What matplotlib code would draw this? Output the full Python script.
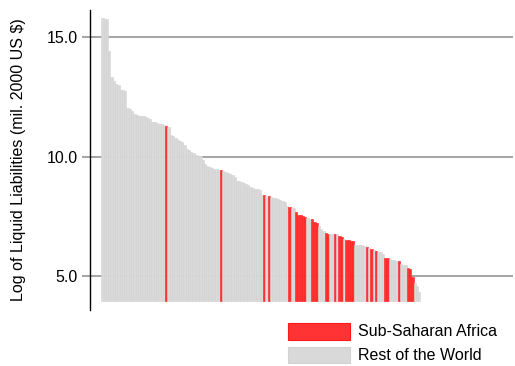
import matplotlib
matplotlib.use("Agg")
import matplotlib.pyplot as plt
from matplotlib.patches import Rectangle

plt.rcParams['font.family'] = ['Liberation Sans', 'DejaVu Sans']

# Log of liquid liabilities per country, sorted descending
values = [
    15.78, 15.77, 15.76, 14.43, 13.32, 13.15, 13.02, 12.98, 12.80, 12.77,
    12.74, 12.05, 12.00, 11.92, 11.76, 11.73, 11.71, 11.69, 11.68, 11.66,
    11.60, 11.56, 11.46, 11.43, 11.41, 11.37, 11.35, 11.33, 11.27, 11.24,
    10.90, 10.85, 10.78, 10.70, 10.66, 10.61, 10.47, 10.33, 10.29, 10.20,
    10.15, 10.08, 10.04, 10.02, 9.85, 9.67, 9.60, 9.56, 9.50, 9.49,
    9.47, 9.45, 9.43, 9.40, 9.35, 9.32, 9.27, 9.24, 9.15, 8.99,
    8.96, 8.93, 8.91, 8.85, 8.81, 8.73, 8.69, 8.66, 8.64, 8.62,
    8.41, 8.38, 8.35, 8.34, 8.30, 8.28, 8.26, 8.24, 8.20, 8.12,
    8.08, 7.94, 7.90, 7.86, 7.84, 7.69, 7.56, 7.54, 7.50, 7.47,
    7.43, 7.40, 7.38, 7.26, 7.23, 7.10, 6.95, 6.90, 6.80, 6.78,
    6.77, 6.76, 6.75, 6.74, 6.66, 6.63, 6.57, 6.52, 6.50, 6.47,
    6.45, 6.32, 6.31, 6.30, 6.29, 6.25, 6.21, 6.17, 6.14, 6.07,
    6.03, 6.01, 5.99, 5.93, 5.77, 5.74, 5.71, 5.69, 5.67, 5.65,
    5.62, 5.52, 5.48, 5.45, 5.34, 5.31, 4.95, 4.70, 4.58, 4.34,
]
# 1 = Sub-Saharan Africa, 0 = Rest of the World
ssa = [0] * 140
ssa_idx = [28, 52, 71, 73, 82, 85, 86, 87, 88, 89, 92, 93, 94, 98, 99,
           102, 104, 105, 107, 108, 109, 110, 116, 118, 120, 124, 125,
           130, 134, 135, 136]
for i in ssa_idx:
    ssa[i] = 1

yticks = [5.0, 10.0, 15.0]
ytick_labels = ["5.0", "10.0", "15.0"]
base = 3.97

fig = plt.figure(figsize=(5.15, 3.66), dpi=100)
ax = fig.add_axes([90 / 515, 56 / 366, 423 / 515, 300 / 366])

for y in yticks:
    ax.axhline(y, color='#8c8c8c', lw=1.1, zorder=0)

x = list(range(len(values)))
heights = [v - base for v in values]
colors = ['#ff3333' if s else '#d9d9d9' for s in ssa]
edges = ['#ff1a1a' if s else '#d2d2d2' for s in ssa]
ax.bar(x, heights, bottom=base, width=1.0, color=colors, edgecolor=edges,
       linewidth=0.4, zorder=2)

ax.set_xlim(-5.46, 180.1)
ax.set_ylim(3.58, 16.13)
ax.set_yticks(yticks)
ax.set_yticklabels(ytick_labels, fontsize=11.5)
ax.tick_params(axis='y', length=6, color='#8c8c8c', width=1.1, pad=3)
ax.set_xticks([])
for s in ['top', 'right', 'bottom']:
    ax.spines[s].set_visible(False)
ax.spines['left'].set_color('black')
ax.spines['left'].set_linewidth(1.0)
ax.set_ylabel("Log of Liquid Liabilities (mil. 2000 US $)", fontsize=11.5,
              labelpad=15)

# legend
W, H = 515, 366
fig.add_artist(Rectangle((288 / W, 1 - 340 / H), 62 / W, 17 / H,
                         transform=fig.transFigure, facecolor='#ff3333',
                         edgecolor='#ff1a1a', lw=0.8))
fig.add_artist(Rectangle((288 / W, 1 - 363 / H), 62 / W, 16 / H,
                         transform=fig.transFigure, facecolor='#d9d9d9',
                         edgecolor='#d2d2d2', lw=0.8))
fig.text(358 / W, 1 - 331.5 / H, "Sub-Saharan Africa", fontsize=11.5,
         va='center', ha='left')
fig.text(358 / W, 1 - 355 / H, "Rest of the World", fontsize=11.5,
         va='center', ha='left')

fig.savefig("out.png", dpi=100)
